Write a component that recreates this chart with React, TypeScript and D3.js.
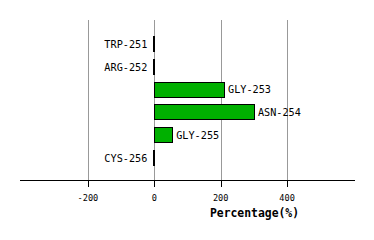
import React from "react";
import * as d3 from "d3";

const categories = ["TRP-251", "ARG-252", "GLY-253", "ASN-254", "GLY-255", "CYS-256"];
const values = [0, 0, 210, 300, 54, 0];
const tickValues = [-200, 0, 200, 400];
const axisTitle = "Percentage(%)";

export default function App() {
  const W = 374, H = 240;
  const x = d3.scaleLinear().domain([-400, 600]).range([21.5, 353.5]);
  const y = d3.scaleBand<string>().domain(categories).range([32.5, 169.3]).paddingInner(0.3).paddingOuter(0.15);
  const axisY = 180;
  const font = "'DejaVu Sans Mono', monospace";
  return (
    <svg width={W} height={H} style={{ position: "absolute", left: 0, top: 0, background: "#fff" }}>
      {tickValues.map((t) => (
        <line key={"g" + t} x1={Math.round(x(t)) + 0.5} x2={Math.round(x(t)) + 0.5} y1={20} y2={axisY} stroke="#999" strokeWidth={1} />
      ))}
      {categories.map((c, i) => {
        const v = values[i];
        const x0 = x(Math.min(0, v));
        const x1 = x(Math.max(0, v));
        const yy = y(c)!;
        const bw = y.bandwidth();
        const zero = v === 0;
        return (
          <g key={c}>
            {zero ? (
              <rect x={Math.round(x(0)) - 1} y={Math.round(yy)} width={2} height={Math.round(bw)} fill="#000" />
            ) : (
              <rect x={Math.round(x0) + 0.5} y={Math.round(yy) + 0.5} width={Math.round(x1 - x0)} height={Math.round(bw) - 1} fill="#00b000" stroke="#000" strokeWidth={1} />
            )}
            <text
              x={v > 0 ? x1 + 4 : x(0) - 7}
              y={yy + bw / 2 + 3.8}
              textAnchor={v > 0 ? "start" : "end"}
              fontFamily={font}
              fontSize={10.2}
              fill="#000"
            >
              {c}
            </text>
          </g>
        );
      })}
      <line x1={20} x2={355} y1={axisY + 0.5} y2={axisY + 0.5} stroke="#000" strokeWidth={1} />
      {tickValues.map((t) => (
        <g key={"t" + t}>
          <line x1={Math.round(x(t)) + 0.5} x2={Math.round(x(t)) + 0.5} y1={axisY} y2={axisY + 7} stroke="#000" strokeWidth={1} />
          <text x={x(t)} y={201} textAnchor="middle" fontFamily={font} fontSize={8.6} fill="#000">
            {t}
          </text>
        </g>
      ))}
      <text x={254.5} y={217} textAnchor="middle" fontFamily={font} fontSize={11.4} fontWeight="bold" fill="#000">
        {axisTitle}
      </text>
    </svg>
  );
}
